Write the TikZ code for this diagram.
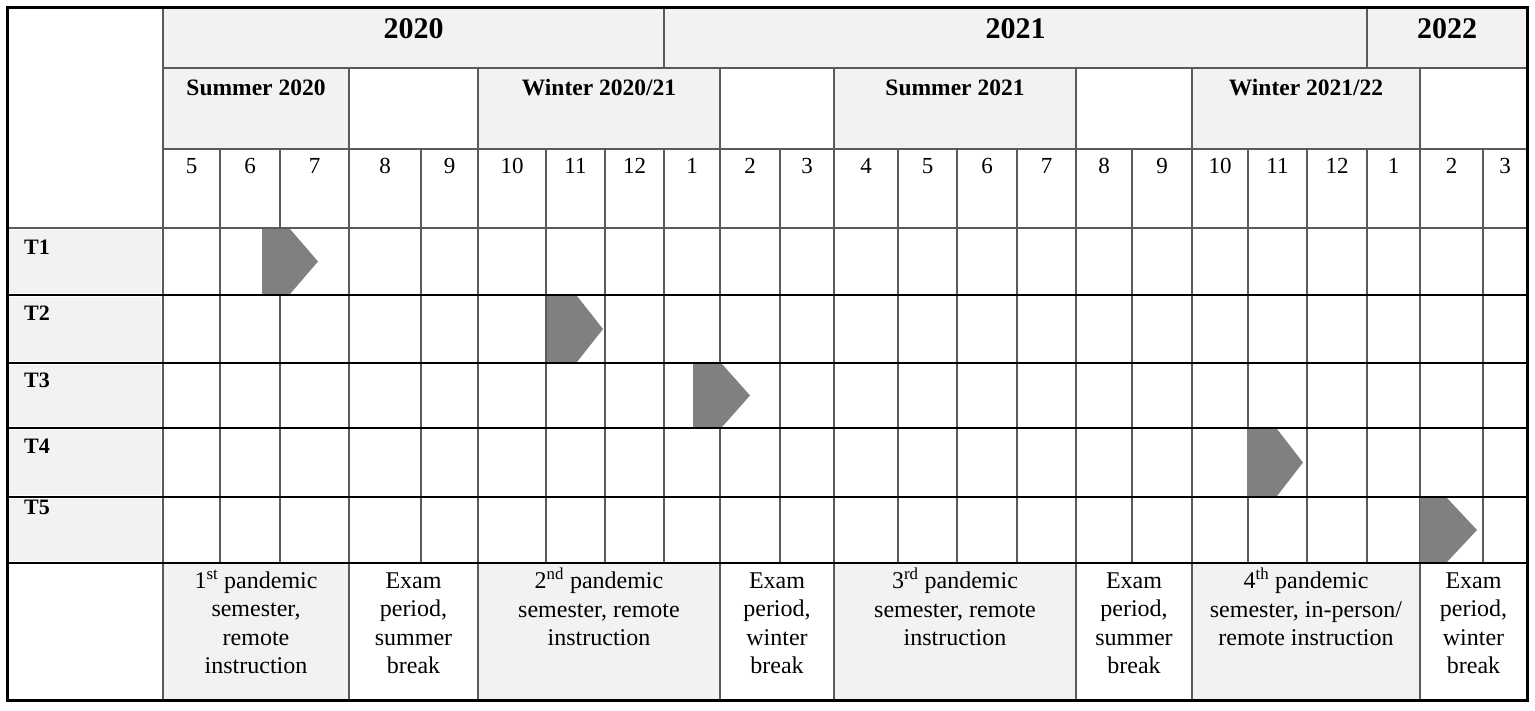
\documentclass[tikz,border=0pt]{standalone}
\usepackage{fontspec}
\setmainfont{Liberation Serif}
\definecolor{cellgray}{HTML}{F2F2F2}
\definecolor{arrowgray}{HTML}{808080}
\definecolor{linegray}{HTML}{5A5A5A}
\newcommand{\toprule}{\rule{0pt}{20pt}}
\tikzset{
  yearlbl/.style={font=\fontsize{30}{34}\selectfont\bfseries, anchor=base, inner sep=0pt},
  semlbl/.style={font=\fontsize{23.5}{28}\selectfont\bfseries, anchor=base, inner sep=0pt},
  monthlbl/.style={font=\fontsize{23}{28}\selectfont, anchor=base, inner sep=0pt},
  tlbl/.style={font=\fontsize{22}{26}\selectfont\bfseries, anchor=base west, inner sep=0pt},
  desclbl/.style={font=\fontsize{24}{28.5}\selectfont, anchor=north, inner sep=0pt, align=center},
  gridline/.style={draw=linegray, line width=1.4pt},
  rowline/.style={draw=black, line width=2pt},
  frameline/.style={draw=black, line width=3pt},
  milestone/.style={fill=arrowgray},
  shade/.style={fill=cellgray},
}
\begin{document}
\begin{tikzpicture}[x=1pt,y=-1pt]
\useasboundingbox[fill=white] (0,0) rectangle (1535,710);
% ---- fills
\fill[shade] (163,7) rectangle (1527,68);
\foreach \l/\r in {163/349, 478/720, 834/1076, 1192/1420}{
  \fill[shade] (\l,68) rectangle (\r,149);
  \fill[shade] (\l,563) rectangle (\r,700);
}
\foreach \t/\b in {228/295, 295/363, 363/428, 428/497, 497/563}{
  \fill[shade] (9,\t+2) rectangle (161,\b-2);
}
% ---- vertical grid lines
\foreach \x in {220,280,421,546,605,664,780,898,957,1017,1132,1248,1307,1367,1483}{
  \draw[gridline] (\x,149) -- (\x,563);
}
\foreach \x in {349,478,720,834,1076,1192,1420}{
  \draw[gridline] (\x,68) -- (\x,700);
}
\foreach \x in {664,1367}{
  \draw[gridline] (\x,7) -- (\x,68);
}
\draw[gridline] (163,7) -- (163,700);
% ---- milestones
\foreach \a/\b/\c/\t/\u in {262/290/318/229/294, 547/577/603/296/362, 693/722/750/364/427,
                             1247/1277/1303/429/496, 1420/1447/1477/498/562}{
  \fill[milestone] (\a,\t) -- (\b,\t) -- (\c,{(\t+\u)/2}) -- (\b,\u) -- (\a,\u) -- cycle;
}
% ---- horizontal lines
\draw[gridline] (163,68) -- (1527,68);
\draw[gridline] (163,149) -- (1527,149);
\draw[gridline] (7,228) -- (1527,228);
\foreach \y in {295,363,428,497,563}{
  \draw[rowline] (7,\y) -- (1527,\y);
}
\draw[frameline] (7,7) rectangle (1527,700);
% ---- years
\node[yearlbl] (y2020) at (413.5,38) {2020};
\node[yearlbl] (y2021) at (1015.5,38) {2021};
\node[yearlbl] (y2022) at (1447,38) {2022};
% ---- semesters
\node[semlbl] (s1) at (256,95) {Summer 2020};
\node[semlbl] (s2) at (599,95) {Winter 2020/21};
\node[semlbl] (s3) at (955,95) {Summer 2021};
\node[semlbl] (s4) at (1306,95) {Winter 2021/22};
% ---- months
\foreach \l/\r/\m in {163/220/5, 220/280/6, 280/349/7, 349/421/8, 421/478/9,
  478/546/10, 546/605/11, 605/664/12, 664/720/1, 720/780/2, 780/834/3,
  834/898/4, 898/957/5, 957/1017/6, 1017/1076/7, 1076/1132/8, 1132/1192/9,
  1192/1248/10, 1248/1307/11, 1307/1367/12, 1367/1420/1, 1420/1483/2, 1483/1527/3}{
  \node[monthlbl] (m\l) at ({(\l+\r)/2},173) {\m};
}
% ---- task labels
\node[tlbl] (t1) at (24,254) {T1};
\node[tlbl] (t2) at (24,320) {T2};
\node[tlbl] (t3) at (24,387) {T3};
\node[tlbl] (t4) at (24,453) {T4};
\node[tlbl] (t5) at (24,514) {T5};
% ---- descriptions
\node[desclbl] (d1) at (256,568) {\toprule1\textsuperscript{st} pandemic\\semester,\\remote\\instruction};
\node[desclbl] (d2) at (413.5,568) {\toprule Exam\\period,\\summer\\break};
\node[desclbl] (d3) at (599,568) {\toprule2\textsuperscript{nd} pandemic\\semester, remote\\instruction};
\node[desclbl] (d4) at (777,568) {\toprule Exam\\period,\\winter\\break};
\node[desclbl] (d5) at (955,568) {\toprule3\textsuperscript{rd} pandemic\\semester, remote\\instruction};
\node[desclbl] (d6) at (1134,568) {\toprule Exam\\period,\\summer\\break};
\node[desclbl] (d7) at (1306,568) {\toprule4\textsuperscript{th} pandemic\\semester, in-person/\\remote instruction};
\node[desclbl] (d8) at (1473.5,568) {\toprule Exam\\period,\\winter\\break};
\end{tikzpicture}
\end{document}
